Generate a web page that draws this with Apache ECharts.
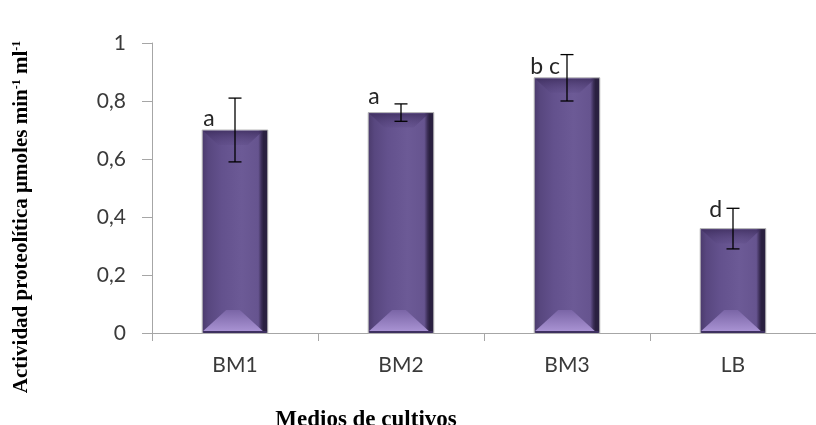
<!DOCTYPE html>
<html>
<head>
<meta charset="utf-8">
<script src="https://cdn.jsdelivr.net/npm/echarts@6/dist/echarts.min.js"></script>
<style>
  html, body { margin: 0; padding: 0; background: #ffffff; }
  #chart { width: 816px; height: 425px; }
</style>
</head>
<body>
<div id="chart"></div>
<script>
// Culture media and their proteolytic activity (µmol min-1 ml-1)
const categories = ['BM1', 'BM2', 'BM3', 'LB'];
const activity = [0.70, 0.76, 0.88, 0.36];
const stdError = [0.11, 0.03, 0.08, 0.07];
const groupLetters = ['a', 'a', 'b c', 'd'];
const yTickValues = [0, 0.2, 0.4, 0.6, 0.8, 1];

// Where each significance letter sits, relative to its bar's top-left corner [dx, gap above]
const letterNudge = [[1, 4], [0, 9], [-4, 4], [9, 12]];

const AXIS_GREY = '#a6a6a6';
const LABEL_FONT = 'Lato, "Open Sans", sans-serif';
const TITLE_FONT = '"Liberation Serif", "DejaVu Serif", serif';

const chart = echarts.init(document.getElementById('chart'), null, { renderer: 'canvas' });

// Bevelled purple column
function renderBar(params, api) {
  const i = api.value(0);
  const v = api.value(1);
  const top = api.coord([i, v]);
  const base = api.coord([i, 0]);
  const w = api.size([1, 0])[0] * 0.395;
  const x0 = top[0] - w / 2;
  const x1 = top[0] + w / 2;
  const y0 = top[1];
  const y1 = base[1];
  const h = y1 - y0;
  const dt = Math.min(15, h / 3);
  const db = Math.min(23, h / 3);
  const LG = echarts.graphic.LinearGradient;

  const nudge = letterNudge[i];
  return {
    type: 'group',
    children: [
      {
        type: 'rect',
        shape: { x: x0, y: y0, width: w, height: h },
        style: {
          fill: new LG(0, 0, 1, 0, [
            { offset: 0, color: '#4a3a6b' },
            { offset: 0.1, color: '#58477f' },
            { offset: 0.3, color: '#63518d' },
            { offset: 0.6, color: '#6c5a96' },
            { offset: 0.85, color: '#66548f' },
            { offset: 0.9, color: '#3a2d55' },
            { offset: 0.93, color: '#2a2040' },
            { offset: 1, color: '#2a2040' }
          ]),
          stroke: '#b8b8b8',
          lineWidth: 1
        }
      },
      {
        type: 'polygon',
        shape: { points: [[x0 + 1, y0 + 1], [x1 - 5, y0 + 1], [x1 - 5 - dt, y0 + dt], [x0 + 1 + dt, y0 + dt]] },
        style: {
          fill: new LG(0, 0, 0, 1, [
            { offset: 0, color: 'rgba(60,44,92,0.75)' },
            { offset: 1, color: 'rgba(88,70,128,0.25)' }
          ])
        }
      },
      {
        type: 'polygon',
        shape: { points: [[x0 + 1 + db, y1 - db], [x1 - 5 - db, y1 - db], [x1 - 5, y1 - 2], [x0 + 1, y1 - 2]] },
        style: {
          fill: new LG(0, 0, 0, 1, [
            { offset: 0, color: '#7a65a6' },
            { offset: 1, color: '#a892d2' }
          ])
        }
      },
      {
        type: 'rect',
        shape: { x: x0 + 1, y: y1 - 2, width: w - 2, height: 2 },
        style: { fill: '#3e3060' }
      },
      {
        type: 'text',
        style: {
          text: groupLetters[i],
          x: x0 + nudge[0],
          y: y0 - nudge[1] + 4,
          align: 'left',
          verticalAlign: 'bottom',
          font: '23px ' + LABEL_FONT,
          fill: '#262626'
        }
      }
    ]
  };
}

// Error bar with caps
function renderError(params, api) {
  const i = api.value(0);
  const hi = api.coord([i, api.value(1) + api.value(2)]);
  const lo = api.coord([i, api.value(1) - api.value(2)]);
  const cap = 6.5;
  const ls = { stroke: '#000000', lineWidth: 1.3 };
  return {
    type: 'group',
    children: [
      { type: 'line', shape: { x1: hi[0], y1: hi[1], x2: lo[0], y2: lo[1] }, style: ls },
      { type: 'line', shape: { x1: hi[0] - cap, y1: hi[1], x2: hi[0] + cap, y2: hi[1] }, style: ls },
      { type: 'line', shape: { x1: lo[0] - cap, y1: lo[1], x2: lo[0] + cap, y2: lo[1] }, style: ls }
    ]
  };
}

const seriesData = categories.map((c, i) => [i, activity[i], stdError[i]]);

chart.setOption({
  animation: false,
  backgroundColor: '#ffffff',
  grid: { left: 152, top: 43, width: 672, bottom: 92, containLabel: false },
  xAxis: {
    type: 'category',
    data: categories,
    axisLine: { lineStyle: { color: AXIS_GREY, width: 1 } },
    axisTick: { show: true, length: 8, lineStyle: { color: AXIS_GREY } },
    axisLabel: { margin: 22, fontSize: 21, fontFamily: LABEL_FONT, color: '#3a3a3a' }
  },
  yAxis: {
    type: 'value',
    min: yTickValues[0],
    max: yTickValues[yTickValues.length - 1],
    interval: 0.2,
    splitLine: { show: false },
    axisLine: { show: true, lineStyle: { color: AXIS_GREY, width: 1 } },
    axisTick: { show: true, length: 10, lineStyle: { color: AXIS_GREY } },
    axisLabel: {
      margin: 26,
      fontSize: 21,
      fontFamily: LABEL_FONT,
      color: '#3a3a3a',
      formatter: (val) => String(Math.round(val * 10) / 10).replace('.', ',')
    }
  },
  series: [
    { type: 'custom', renderItem: renderBar, data: seriesData, z: 2, clip: false },
    { type: 'custom', renderItem: renderError, data: seriesData, z: 3, clip: false }
  ],
  graphic: [
    {
      type: 'text',
      x: 22,
      y: 217,
      rotation: Math.PI / 2,
      style: {
        text: '{b|Actividad proteolítica µmoles min}{s|-1}{b| ml}{s|-1}',
        align: 'center',
        verticalAlign: 'middle',
        fill: '#000000',
        rich: {
          b: { fontFamily: TITLE_FONT, fontWeight: 'bold', fontSize: 21, lineHeight: 23, fill: '#000000' },
          s: { fontFamily: TITLE_FONT, fontWeight: 'bold', fontSize: 12, lineHeight: 12, padding: [0, 0, 11, 0], fill: '#000000' }
        }
      }
    },
    {
      type: 'text',
      x: 366,
      y: 420,
      style: {
        text: 'Medios de cultivos',
        align: 'center',
        verticalAlign: 'middle',
        font: 'bold 23px ' + TITLE_FONT,
        fill: '#000000'
      }
    }
  ]
});
</script>
</body>
</html>
